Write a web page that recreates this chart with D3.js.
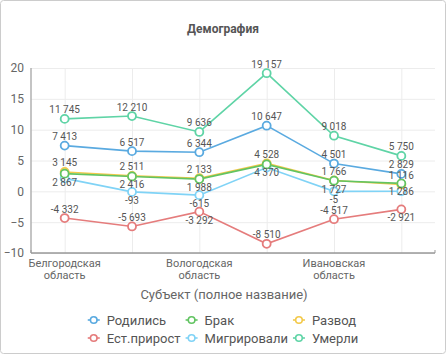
<!DOCTYPE html>
<html><head><meta charset="utf-8">
<script src="https://cdn.jsdelivr.net/npm/d3@7"></script>
<style>body{margin:0;background:#fff;} svg{display:block;font-family:Roboto,"Noto Sans",sans-serif;}</style>
</head><body><svg id="c" width="446" height="354"></svg>
<script>
// ---- data ----
const categories = ["Белгородская область","Брянская область","Вологодская область","Воронежская область","Ивановская область","Калужская область"];
const seriesNames = ["Родились","Брак","Развод","Ест.прирост","Мигрировали","Умерли"];
const births    = [7413, 6517, 6344, 10647, 4501, 2829];
const marriages = [2867, 2416, 1988, 4370, 1727, 1286];
const divorces  = [3145, 2511, 2133, 4528, 1766, 1116];
const natural   = [-4332, -5693, -3292, -8510, -4517, -2921];
const migrated  = [2100, -93, -615, 3850, -5, 20];
const deaths    = [11745, 12210, 9636, 19157, 9018, 5750];
const yTicks = [-10, -5, 0, 5, 10, 15, 20];
const titleText = "Демография";
const xTitleText = "Субъект (полное название)";

// ---- style ----
const colors = ["#5aaae0", "#62c462", "#f3c94a", "#e57c7c", "#80d3f6", "#5fd4a6"];
const W = 446, H = 354;
const plot = {left: 31, right: 435, top: 68, bottom: 253};

const seriesValues = [births, marriages, divorces, natural, migrated, deaths];
const series = seriesNames.map((n, i) => ({name: n, color: colors[i], values: seriesValues[i], idx: i}));

const loc = d3.formatLocale({decimal: ",", thousands: " ", grouping: [3], currency: ["", ""], minus: "-"});
const fmt = loc.format(",d");

const svg = d3.select("#c");
svg.append("rect").attr("x", 0.5).attr("y", 0.5).attr("width", W - 1).attr("height", H - 1)
  .attr("rx", 3).attr("fill", "#fff").attr("stroke", "#cccccc");

const x = d3.scalePoint().domain(categories).range([plot.left, plot.right]).padding(0.5);
const y = d3.scaleLinear().domain([-10, 20]).range([plot.bottom, plot.top]);

// title
svg.append("text").attr("x", W / 2).attr("y", 33).attr("text-anchor", "middle")
  .attr("font-size", 12).attr("font-weight", "bold").attr("fill", "#555").text(titleText);

// horizontal grid
const gy = svg.append("g").attr("transform", `translate(${plot.left},0)`)
  .call(d3.axisLeft(y).tickValues(yTicks).tickSize(-(plot.right - plot.left)).tickFormat(""));
gy.select(".domain").remove();
gy.selectAll(".tick line").attr("stroke", "#ececec");

// vertical grid at categories
const gx = svg.append("g").attr("transform", `translate(0,${plot.bottom})`)
  .call(d3.axisBottom(x).tickSize(-(plot.bottom - plot.top)).tickFormat(""));
gx.select(".domain").remove();
gx.selectAll(".tick line").attr("stroke", "#ececec");

// y axis line
svg.append("line").attr("x1", plot.left).attr("x2", plot.left).attr("y1", plot.top).attr("y2", plot.bottom)
  .attr("stroke", "#b0b0b0").attr("stroke-width", 1.5);
// y labels
const yl = svg.append("g").attr("transform", `translate(${plot.left},0)`)
  .call(d3.axisLeft(y).tickValues(yTicks).tickSize(0).tickPadding(7).tickFormat(d3.format("d")));
yl.select(".domain").remove();
yl.selectAll("text").attr("font-size", 12).attr("fill", "#666").attr("font-family", "Roboto,sans-serif");

// x axis
svg.append("line").attr("x1", plot.left).attr("x2", plot.right).attr("y1", plot.bottom).attr("y2", plot.bottom)
  .attr("stroke", "#999").attr("stroke-width", 1.5);
[plot.left, plot.right].forEach(px => svg.append("line").attr("x1", px).attr("x2", px)
  .attr("y1", plot.bottom).attr("y2", plot.bottom - 3).attr("stroke", "#999"));

categories.forEach((c, i) => {
  if (i % 2 !== 0) return;
  c.split(" ").forEach((w, k) => svg.append("text").attr("text-anchor", "middle")
    .attr("font-size", 11).attr("fill", "#666")
    .attr("x", x(c)).attr("y", 267 + k * 12).text(w));
});

svg.append("text").attr("x", W / 2 + 1).attr("y", 299).attr("text-anchor", "middle")
  .attr("font-size", 13).attr("fill", "#666").text(xTitleText);

// lines & markers
const line = d3.line().x((d, i) => x(categories[i])).y(d => y(d / 1000));
const drawOrder = [5, 4, 3, 2, 1, 0];
const gLines = svg.append("g"), gMarks = svg.append("g"), gLabels = svg.append("g");
drawOrder.forEach(si => {
  const s = series[si];
  gLines.append("path").datum(s.values).attr("d", line).attr("fill", "none")
    .attr("stroke", s.color).attr("stroke-width", 1.6);
  gMarks.selectAll(null).data(s.values).join("circle")
    .attr("cx", (d, i) => x(categories[i])).attr("cy", d => y(d / 1000)).attr("r", 4)
    .attr("fill", "#fff").attr("stroke", s.color).attr("stroke-width", 1.8);
});

// data labels with simple overlap avoidance
const labelOrder = [5, 0, 2, 1, 4, 3];
const half = 5;
categories.forEach((c, i) => {
  const placed = [];
  labelOrder.forEach(si => {
    const v = series[si].values[i];
    const py = y(v / 1000);
    const cands = [py - 9, py + 8.5];
    for (const cy of cands) {
      if (placed.every(p => Math.abs(p - cy) >= 2 * half)) {
        placed.push(cy);
        gLabels.append("text").attr("x", x(c)).attr("y", cy).attr("dy", "0.35em")
          .attr("text-anchor", "middle").attr("font-size", 10).attr("fill", "#555").text(fmt(v));
        break;
      }
    }
  });
});

// legend (rows of 3, aligned columns)
const perRow = 3;
const symW = 12, symGap = 7, colGap = 5;
const meas = svg.append("text").attr("font-size", 13).attr("visibility", "hidden");
const tw = series.map(s => { meas.text(s.name); return meas.node().getComputedTextLength(); });
meas.remove();
const colW = d3.range(perRow).map(ci => d3.max(series.filter((s, k) => k % perRow === ci), s => symW + symGap + tw[s.idx]) + colGap);
const totalW = d3.sum(colW) - colGap;
const startX = (W - totalW) / 2;
const colX = colW.map((w, ci) => startX + d3.sum(colW.slice(0, ci)));
series.forEach((s, k) => {
  const ci = k % perRow, ri = Math.floor(k / perRow);
  const lx = colX[ci], ly = 320 + ri * 18;
  const g = svg.append("g");
  g.append("line").attr("x1", lx).attr("x2", lx + symW).attr("y1", ly).attr("y2", ly)
    .attr("stroke", s.color).attr("stroke-width", 1.6);
  g.append("circle").attr("cx", lx + symW / 2).attr("cy", ly).attr("r", 3.3)
    .attr("fill", "#fff").attr("stroke", s.color).attr("stroke-width", 1.6);
  g.append("text").attr("x", lx + symW + symGap).attr("y", ly).attr("dy", "0.35em")
    .attr("font-size", 13).attr("fill", "#555").text(s.name);
});
</script></body></html>
